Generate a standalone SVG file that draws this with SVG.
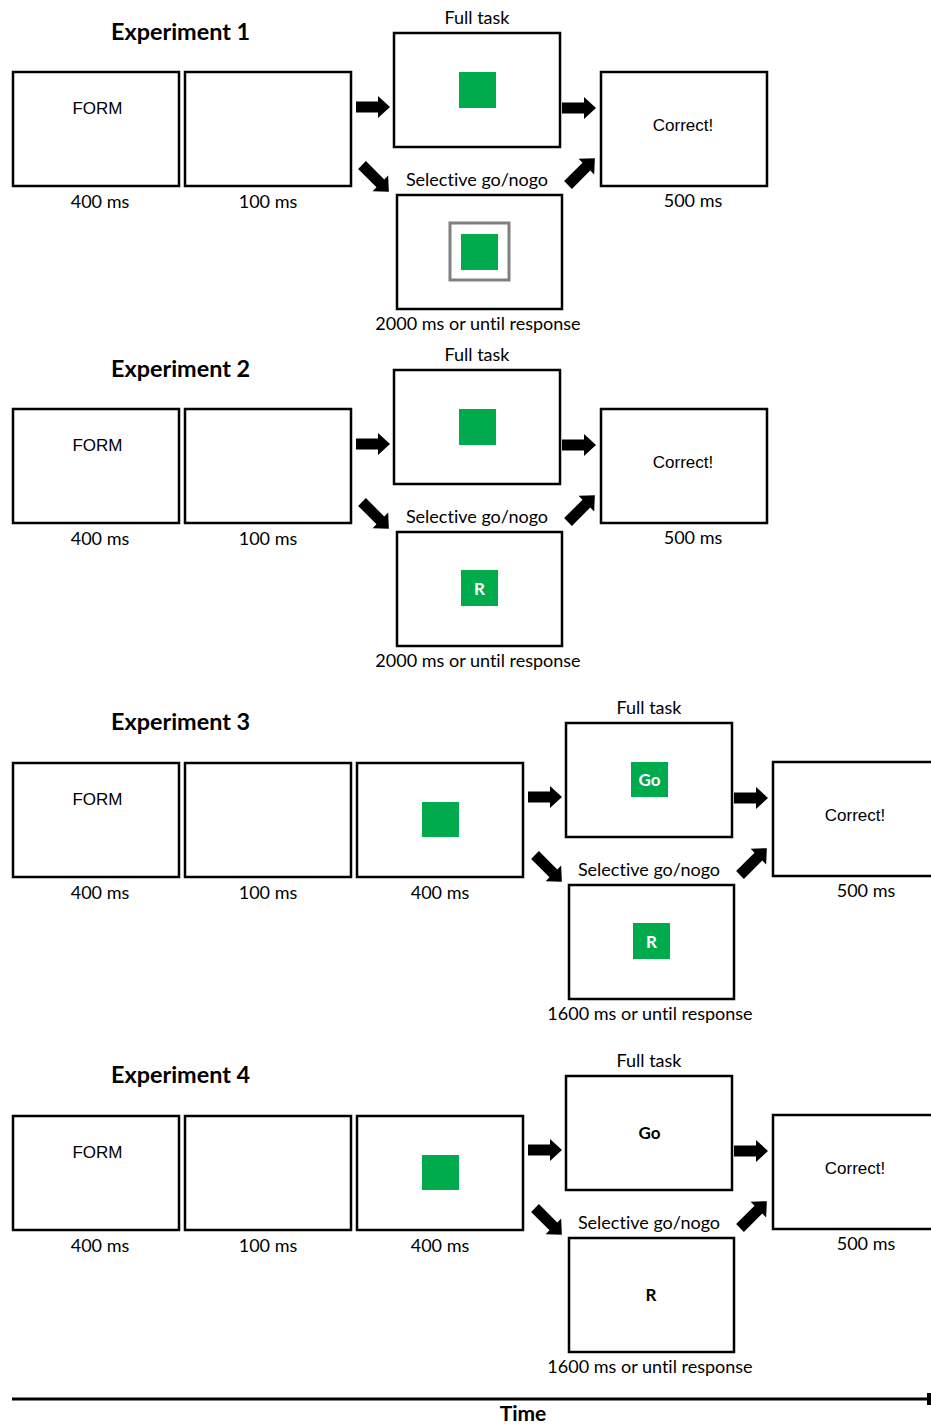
<svg xmlns="http://www.w3.org/2000/svg" xmlns:xlink="http://www.w3.org/1999/xlink" width="931" height="1425" viewBox="0 0 931 1425">
<style>
text{font-variant-ligatures:none}
.bx{fill:#fff;stroke:#000;stroke-width:2.5}
.gr{fill:#00AB4E}
.fr{fill:none;stroke:#808080;stroke-width:3}
.ti{font-family:Lato,"Open Sans",sans-serif;font-weight:bold;font-size:23.4px;fill:#000}
.lb{font-family:Lato,"Open Sans",sans-serif;font-size:18px;fill:#000;text-anchor:middle}
.ar{font-family:"Liberation Sans",Arial,sans-serif;font-size:17px;fill:#000;text-anchor:middle}
.wb{font-family:Lato,"Open Sans",sans-serif;font-weight:bold;font-size:17px;fill:#fff;text-anchor:middle}
.kb{font-family:Lato,"Open Sans",sans-serif;font-weight:bold;font-size:17px;fill:#000;text-anchor:middle}
.tm{font-family:Lato,"Open Sans",sans-serif;font-weight:bold;font-size:21px;fill:#000;text-anchor:middle}
</style>
<defs>
<path id="ar" d="M0,-5.5H22V-11L34,0L22,11V5.5H0Z" fill="#000"/>
<path id="ad" d="M0,-5.5H26V-11L38,0L26,11V5.5H0Z" fill="#000"/>
</defs>
<rect width="931" height="1425" fill="#fff"/>

<!-- Experiment 1 -->
<g id="exp1" transform="translate(0,0)">
<text class="ti" x="111" y="40">Experiment 1</text>
<g id="e1-form"><rect class="bx" x="13" y="72" width="166" height="114"/><text class="ar" x="97.5" y="114">FORM</text><text class="lb" x="100" y="208">400 ms</text></g>
<g id="e1-blank"><rect class="bx" x="185" y="72" width="166" height="114"/><text class="lb" x="268" y="208">100 ms</text></g>
<g id="e1-full"><text class="lb" x="477" y="24">Full task</text><rect class="bx" x="394" y="33" width="166" height="114"/><rect class="gr" x="459" y="72" width="37" height="36"/></g>
<g id="e1-sel"><text class="lb" x="477" y="186">Selective go/nogo</text><rect class="bx" x="397" y="195" width="165" height="114"/><rect class="fr" x="450" y="223" width="59" height="57"/><rect class="gr" x="461" y="234" width="37" height="36"/><text class="lb" x="478" y="330">2000 ms or until response</text></g>
<g id="e1-fb"><rect class="bx" x="601" y="72" width="166" height="114"/><text class="ar" x="683" y="130.5">Correct!</text><text class="lb" x="693" y="207">500 ms</text></g>
<g id="e1-conn">
<use xlink:href="#ar" transform="translate(356,107)"/>
<use xlink:href="#ad" transform="translate(362,165) rotate(45)"/>
<use xlink:href="#ar" transform="translate(562,108)"/>
<use xlink:href="#ad" transform="translate(568,185) rotate(-45)"/>
</g>
</g>

<!-- Experiment 2 -->
<g id="exp2" transform="translate(0,337)">
<text class="ti" x="111" y="40">Experiment 2</text>
<g id="e2-form"><rect class="bx" x="13" y="72" width="166" height="114"/><text class="ar" x="97.5" y="114">FORM</text><text class="lb" x="100" y="208">400 ms</text></g>
<g id="e2-blank"><rect class="bx" x="185" y="72" width="166" height="114"/><text class="lb" x="268" y="208">100 ms</text></g>
<g id="e2-full"><text class="lb" x="477" y="24">Full task</text><rect class="bx" x="394" y="33" width="166" height="114"/><rect class="gr" x="459" y="72" width="37" height="36"/></g>
<g id="e2-sel"><text class="lb" x="477" y="186">Selective go/nogo</text><rect class="bx" x="397" y="195" width="165" height="114"/><rect class="gr" x="461" y="233" width="37" height="36"/><text class="wb" x="479.5" y="258">R</text><text class="lb" x="478" y="330">2000 ms or until response</text></g>
<g id="e2-fb"><rect class="bx" x="601" y="72" width="166" height="114"/><text class="ar" x="683" y="130.5">Correct!</text><text class="lb" x="693" y="207">500 ms</text></g>
<g id="e2-conn">
<use xlink:href="#ar" transform="translate(356,107)"/>
<use xlink:href="#ad" transform="translate(362,165) rotate(45)"/>
<use xlink:href="#ar" transform="translate(562,108)"/>
<use xlink:href="#ad" transform="translate(568,185) rotate(-45)"/>
</g>
</g>

<!-- Experiment 3 -->
<g id="exp3" transform="translate(0,691)">
<text class="ti" x="111" y="39">Experiment 3</text>
<g id="e3-form"><rect class="bx" x="13" y="72" width="166" height="114"/><text class="ar" x="97.5" y="114">FORM</text><text class="lb" x="100" y="208">400 ms</text></g>
<g id="e3-blank"><rect class="bx" x="185" y="72" width="166" height="114"/><text class="lb" x="268" y="208">100 ms</text></g>
<g id="e3-cue"><rect class="bx" x="357" y="72" width="166" height="114"/><rect class="gr" x="422" y="111" width="37" height="35"/><text class="lb" x="440" y="208">400 ms</text></g>
<g id="e3-full"><text class="lb" x="649" y="23">Full task</text><rect class="bx" x="566" y="32" width="166" height="114"/><rect class="gr" x="631" y="71" width="37" height="35"/><text class="wb" x="649.5" y="95">Go</text></g>
<g id="e3-sel"><text class="lb" x="649" y="185">Selective go/nogo</text><rect class="bx" x="569" y="194" width="165" height="114"/><rect class="gr" x="633" y="232" width="37" height="36"/><text class="wb" x="651.5" y="257">R</text><text class="lb" x="650" y="329">1600 ms or until response</text></g>
<g id="e3-fb"><rect class="bx" x="773" y="71" width="170" height="114"/><text class="ar" x="855" y="129.5">Correct!</text><text class="lb" x="866" y="206">500 ms</text></g>
<g id="e3-conn">
<use xlink:href="#ar" transform="translate(528,106)"/>
<use xlink:href="#ad" transform="translate(535,164) rotate(45)"/>
<use xlink:href="#ar" transform="translate(734,107)"/>
<use xlink:href="#ad" transform="translate(740,184) rotate(-45)"/>
</g>
</g>

<!-- Experiment 4 -->
<g id="exp4" transform="translate(0,1044)">
<text class="ti" x="111" y="39">Experiment 4</text>
<g id="e4-form"><rect class="bx" x="13" y="72" width="166" height="114"/><text class="ar" x="97.5" y="114">FORM</text><text class="lb" x="100" y="208">400 ms</text></g>
<g id="e4-blank"><rect class="bx" x="185" y="72" width="166" height="114"/><text class="lb" x="268" y="208">100 ms</text></g>
<g id="e4-cue"><rect class="bx" x="357" y="72" width="166" height="114"/><rect class="gr" x="422" y="111" width="37" height="35"/><text class="lb" x="440" y="208">400 ms</text></g>
<g id="e4-full"><text class="lb" x="649" y="23">Full task</text><rect class="bx" x="566" y="32" width="166" height="114"/><text class="kb" x="649.5" y="95">Go</text></g>
<g id="e4-sel"><text class="lb" x="649" y="185">Selective go/nogo</text><rect class="bx" x="569" y="194" width="165" height="114"/><text class="kb" x="651" y="257">R</text><text class="lb" x="650" y="329">1600 ms or until response</text></g>
<g id="e4-fb"><rect class="bx" x="773" y="71" width="170" height="114"/><text class="ar" x="855" y="129.5">Correct!</text><text class="lb" x="866" y="206">500 ms</text></g>
<g id="e4-conn">
<use xlink:href="#ar" transform="translate(528,106)"/>
<use xlink:href="#ad" transform="translate(535,164) rotate(45)"/>
<use xlink:href="#ar" transform="translate(734,107)"/>
<use xlink:href="#ad" transform="translate(740,184) rotate(-45)"/>
</g>
</g>

<!-- Time axis -->
<g id="time-axis">
<line x1="12" y1="1399" x2="929" y2="1399" stroke="#000" stroke-width="3"/>
<rect x="927" y="1393" width="4" height="12" fill="#000"/>
<text class="tm" x="523" y="1421">Time</text>
</g>
</svg>
